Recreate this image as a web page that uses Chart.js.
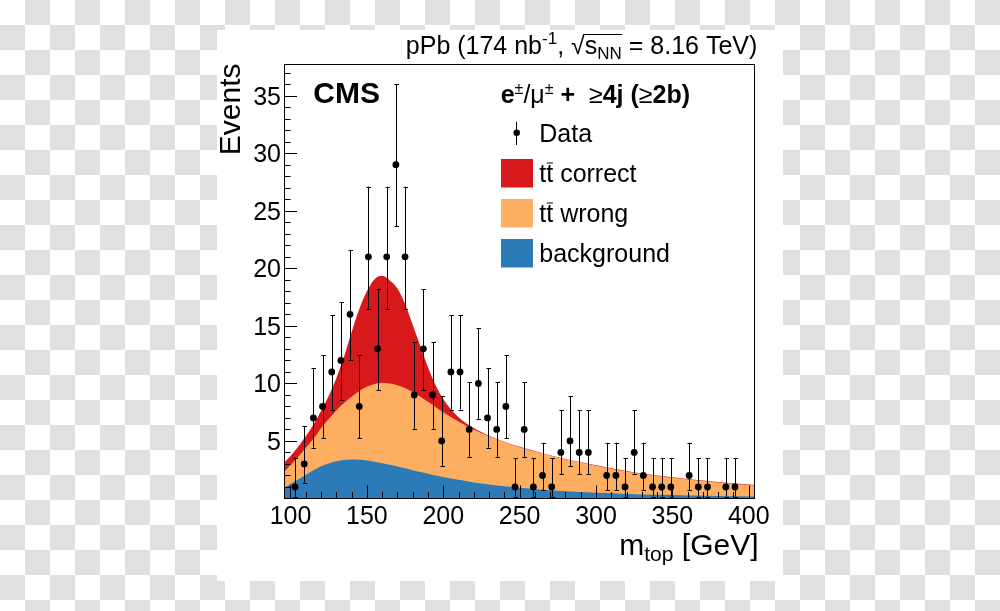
<!DOCTYPE html>
<html><head><meta charset="utf-8">
<script src="https://cdn.jsdelivr.net/npm/chart.js@4.4.1/dist/chart.umd.min.js"></script>
<style>
html,body{margin:0;padding:0;width:1000px;height:611px;overflow:hidden;}
body{background-color:#fff;background-image:conic-gradient(#e0e0e0 0 25%, #fff 0 50%, #e0e0e0 0 75%, #fff 0 100%);background-size:50px 50px;}
#panel{position:absolute;left:217px;top:30px;width:566px;height:551px;background:#fff;}
#c{position:absolute;left:0;top:0;}
</style></head><body>
<div id="panel"></div>
<canvas id="c" width="1000" height="611"></canvas>
<script>
// ---- data ----
const binCenters = [103,109,115,121,127,133,139,145,151,157,163,169,175,181,187,193,199,205,211,217,223,229,235,241,247,253,259,265,271,277,283,289,295,301,307,313,319,325,331,337,343,349,355,361,367,373,379,385,391];
const dataCounts = [1,3,7,8,11,12,16,8,21,13,21,29,21,9,13,9,5,11,11,6,10,7,6,8,1,6,1,2,1,4,5,4,4,null,2,2,1,4,2,1,1,1,null,2,1,1,null,1,1];
// error-bar ends per count
const errLowEnd  = {1:0.17,2:0.71,3:1.37,4:2.09,5:2.84,6:3.62,7:4.42,8:5.23,9:6.06,10:6.89,11:7.73,12:8.58,13:9.44,16:12.04,21:16.46,29:23.65};
const errHighEnd = {1:3.5,2:4.85,3:6.3,4:7.65,5:8.9,6:10.1,7:11.3,8:12.45,9:13.6,10:14.8,11:15.95,12:17.05,13:18.2,16:21.6,21:27.1,29:36.0};

// smooth model curves (component values, stacked)
const mCurve       = [95.75,100,105,110,115,120,125,130,135,140,145,150,155,160,165,170,175,180,185,190,195,200,210,220,230,240,250,265,280,300,320,340,360,380,404.1];
const bgCurve      = [0.9,1.25,1.65,2.05,2.45,2.8,3.05,3.24,3.34,3.38,3.36,3.3,3.2,3.07,2.93,2.78,2.62,2.46,2.3,2.15,2.0,1.87,1.62,1.4,1.22,1.06,0.93,0.77,0.64,0.5,0.4,0.32,0.26,0.21,0.17];
const wrongCurve   = [1.4,1.65,1.95,2.35,2.75,3.3,3.85,4.41,4.96,5.47,5.99,6.4,6.75,6.98,7.07,7.07,6.98,6.79,6.55,6.25,5.95,5.63,5.08,4.6,4.18,3.84,3.52,3.13,2.76,2.35,1.95,1.63,1.39,1.19,0.96];
const correctCurve = [0.8,0.8,0.9,1.0,1.2,1.5,2.0,2.8,4.0,5.6,7.1,8.3,9.1,9.3,8.95,8.4,7.3,5.85,4.4,3.0,1.9,1.15,0.35,0.12,0.06,0.04,0.04,0.04,0.04,0.04,0.04,0.04,0.04,0.04,0.04];

const xTickLabels = [100,150,200,250,300,350,400];
const yTickLabels = [5,10,15,20,25,30,35];
const legendLabels = ['Data','correct','wrong','background'];

const xMin = 95.75, xMax = 404.1, yMin = 0, yMax = 37.75;
const COL_RED = '#d7191c', COL_ORANGE = '#fdae61', COL_BLUE = '#2c7bb6';
const FONT = '"Liberation Sans", Arial, Helvetica, sans-serif';

function drawRuns(ctx, x, y, runs, align) {
  let w = 0;
  runs.forEach(r => { ctx.font = r[1]; r.w = ctx.measureText(r[0]).width; w += r.w; });
  let cx = align === 'right' ? x - w : x;
  const pos = [];
  runs.forEach(r => { ctx.font = r[1]; ctx.fillText(r[0], cx, y + (r[2] || 0)); pos.push([cx, r.w]); cx += r.w; });
  return pos;
}

const rootStyle = {
  id: 'rootStyle',
  beforeDatasetDraw(chart, args) {
    if (args.index !== 3) return;
    const ctx = chart.ctx, xs = chart.scales.x, ys = chart.scales.y;
    ctx.save();
    ctx.strokeStyle = '#000'; ctx.lineWidth = 1;
    binCenters.forEach((m, i) => {
      const n = dataCounts[i];
      if (n == null) return;
      const px = Math.round(xs.getPixelForValue(m)) + 0.5;
      const yl = ys.getPixelForValue(errLowEnd[n]);
      const yh = ys.getPixelForValue(errHighEnd[n]);
      ctx.beginPath();
      ctx.moveTo(px, yl); ctx.lineTo(px, yh);
      ctx.moveTo(px - 2, Math.round(yh) + 0.5); ctx.lineTo(px + 2.5, Math.round(yh) + 0.5);
      ctx.moveTo(px - 2, Math.round(yl) + 0.5); ctx.lineTo(px + 2.5, Math.round(yl) + 0.5);
      ctx.stroke();
    });
    ctx.restore();
  },
  afterDraw(chart) {
    const ctx = chart.ctx, xs = chart.scales.x, ys = chart.scales.y, ca = chart.chartArea;
    ctx.save();
    ctx.strokeStyle = '#000'; ctx.fillStyle = '#000'; ctx.lineWidth = 1;
    // frame
    ctx.strokeRect(ca.left + 0.5, ca.top + 0.5, ca.right - ca.left - 1, ca.bottom - ca.top - 0.5);
    // ticks
    ctx.beginPath();
    for (let v = 1; v <= 37; v++) {
      const py = Math.round(ys.getPixelForValue(v)) + 0.5;
      const len = v % 5 === 0 ? 13 : 6.5;
      ctx.moveTo(ca.left, py); ctx.lineTo(ca.left + len, py);
    }
    for (let v = 100; v <= 400; v += 10) {
      const px = Math.round(xs.getPixelForValue(v)) + 0.5;
      const len = v % 50 === 0 ? 13 : 6.5;
      ctx.moveTo(px, ca.bottom); ctx.lineTo(px, ca.bottom - len);
    }
    ctx.stroke();
    // tick labels
    ctx.font = `25px ${FONT}`;
    ctx.textBaseline = 'alphabetic';
    ctx.textAlign = 'right';
    yTickLabels.forEach(v => ctx.fillText(String(v), ca.left - 3, ys.getPixelForValue(v) + 9));
    ctx.textAlign = 'center';
    xTickLabels.forEach(v => ctx.fillText(String(v), xs.getPixelForValue(v), 524));
    ctx.textAlign = 'left';
    // axis titles
    ctx.save();
    ctx.translate(240, 63.5); ctx.rotate(-Math.PI / 2);
    ctx.font = `30px ${FONT}`; ctx.textAlign = 'right';
    ctx.fillText('Events', 0, 0);
    ctx.restore();
    ctx.textAlign = 'left';
    drawRuns(ctx, 758.5, 554.5, [['m', `30px ${FONT}`], ['top', `21px ${FONT}`, 6], [' [GeV]', `30px ${FONT}`]], 'right');
    // top text
    const pos = drawRuns(ctx, 757.3, 54, [
      ['pPb (174 nb', `25px ${FONT}`], ['-1', `17px ${FONT}`, -10], [', ', `25px ${FONT}`],
      ['\u221A', `25px ${FONT}`], ['s', `25px ${FONT}`], ['NN', `17px ${FONT}`, 5], [' = 8.16 TeV)', `25px ${FONT}`]
    ], 'right');
    ctx.beginPath();
    ctx.lineWidth = 1.2;
    ctx.moveTo(pos[3][0] + pos[3][1] - 1.5, 54 - 19.5);
    ctx.lineTo(pos[5][0] + pos[5][1] + 0.5, 54 - 19.5);
    ctx.stroke();
    ctx.lineWidth = 1;
    // CMS
    ctx.font = `bold 30px ${FONT}`;
    ctx.fillText('CMS', 313.3, 102.7);
    // legend header
    drawRuns(ctx, 500.7, 103.3, [
      ['e', `bold 25px ${FONT}`], ['\u00B1', `16px ${FONT}`, -9], ['/', `25px ${FONT}`], ['\u03BC', `25px ${FONT}`],
      ['\u00B1', `16px ${FONT}`, -9], [' +  ', `bold 25px ${FONT}`], ['\u2265', `25px ${FONT}`], ['4j (', `bold 25px ${FONT}`],
      ['\u2265', `25px ${FONT}`], ['2b)', `bold 25px ${FONT}`]
    ]);
    // legend entries
    ctx.font = `25px ${FONT}`;
    ctx.beginPath(); ctx.moveTo(516.5, 121.7); ctx.lineTo(516.5, 145); ctx.stroke();
    ctx.beginPath(); ctx.arc(516.7, 132.7, 3.2, 0, Math.PI * 2); ctx.fill();
    ctx.fillText(legendLabels[0], 539.3, 141.8);
    const rows = [[COL_RED, legendLabels[1], 159, 182], [COL_ORANGE, legendLabels[2], 199, 222], [COL_BLUE, legendLabels[3], 239, 262]];
    rows.forEach((r, k) => {
      ctx.fillStyle = r[0];
      ctx.fillRect(501, r[2], 32, 28.5);
      ctx.fillStyle = '#000';
      ctx.font = `25px ${FONT}`;
      if (k < 2) {
        const tw = ctx.measureText('t').width;
        ctx.fillText('t', 539.3, r[3]);
        ctx.fillText('t', 539.3 + tw, r[3]);
        ctx.beginPath();
        ctx.moveTo(539.3 + tw + 0.8, r[3] - 19); ctx.lineTo(539.3 + 2 * tw - 0.3, r[3] - 19);
        ctx.stroke();
        ctx.fillText(' ' + r[1], 539.3 + 2 * tw, r[3]);
      } else {
        ctx.fillText(r[1], 539.3, r[3]);
      }
    });
    ctx.restore();
  }
};

const mk = arr => mCurve.map((x, i) => ({x: x, y: arr[i]}));

new Chart(document.getElementById('c'), {
  type: 'line',
  data: {
    datasets: [
      {label: 'background', data: mk(bgCurve), stack: 'mc', order: 1, fill: 'origin',
       backgroundColor: COL_BLUE, borderColor: 'rgba(0,0,0,0)', borderWidth: 0, pointRadius: 0, cubicInterpolationMode: 'monotone'},
      {label: 'tt wrong', data: mk(wrongCurve), stack: 'mc', order: 2, fill: 'origin',
       backgroundColor: COL_ORANGE, borderColor: 'rgba(0,0,0,0)', borderWidth: 0, pointRadius: 0, cubicInterpolationMode: 'monotone'},
      {label: 'tt correct', data: mk(correctCurve), stack: 'mc', order: 3, fill: 'origin',
       backgroundColor: COL_RED, borderColor: 'rgba(0,0,0,0)', borderWidth: 0, pointRadius: 0, cubicInterpolationMode: 'monotone'},
      {label: 'Data', data: binCenters.map((x, i) => ({x: x, y: dataCounts[i]})), stack: 'data', order: 0,
       showLine: false, fill: false, pointRadius: 3.4, pointBorderWidth: 0, pointBackgroundColor: '#000', pointBorderColor: '#000'}
    ]
  },
  options: {
    responsive: false, animation: false, devicePixelRatio: 1,
    layout: {padding: {left: 0, top: 64, right: 245, bottom: 0}},
    plugins: {legend: {display: false}, tooltip: {enabled: false}},
    scales: {
      x: {type: 'linear', min: xMin, max: xMax, grid: {display: false, drawTicks: false}, border: {display: false},
          ticks: {display: false}, afterFit(s) { s.height = 611 - 498.5; }},
      y: {type: 'linear', stacked: true, min: yMin, max: yMax, grid: {display: false, drawTicks: false}, border: {display: false},
          ticks: {display: false}, afterFit(s) { s.width = 284; }}
    }
  },
  plugins: [rootStyle]
});
</script></body></html>
